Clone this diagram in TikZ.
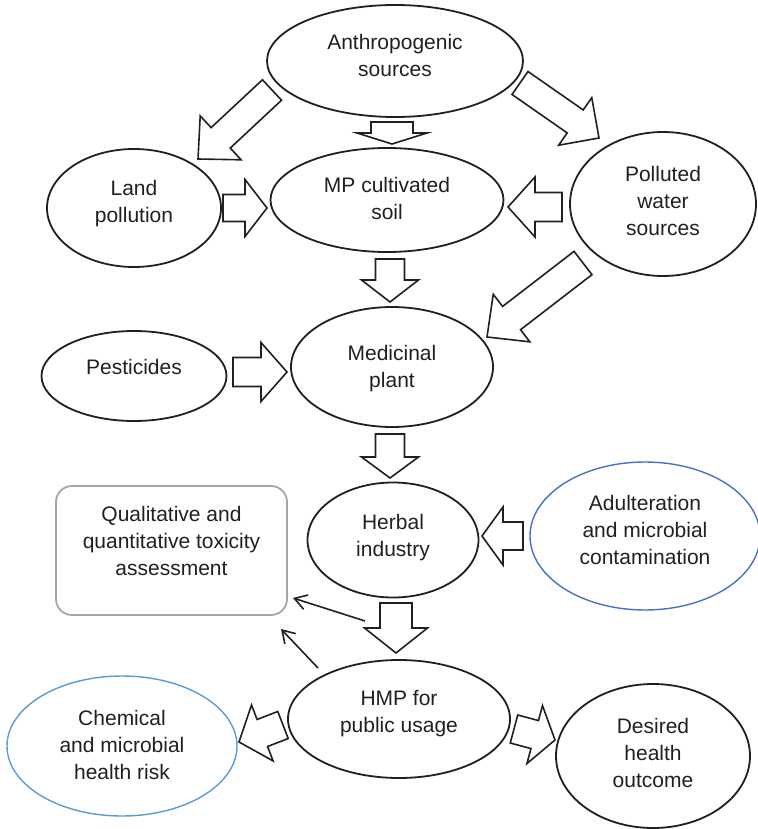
\documentclass[tikz,border=0pt]{standalone}
\usepackage{fontspec}
\setmainfont{Liberation Sans}
\usetikzlibrary{shapes.geometric,calc,arrows.meta}
\definecolor{ink}{HTML}{231F20}
\definecolor{blueA}{HTML}{4472C4}
\definecolor{blueB}{HTML}{5B9BD5}
\definecolor{boxgray}{HTML}{A6A6A6}
\newcommand{\mytxt}[2]{\raisebox{\dimexpr#1-2.5pt\relax}[\height][\depth]{\begin{tabular}{@{}c@{}}#2\end{tabular}}}
% tail, tip, shaft half width, head half width, head length
\newcommand{\blockarrow}[5]{%
  \coordinate (ba-b) at ($(#2)!#5!(#1)$);
  \draw[barrow] ($(#1)!#3!90:(#2)$) -- ($(ba-b)!#3!90:(#2)$) -- ($(ba-b)!#4!90:(#2)$)
     -- (#2) -- ($(ba-b)!#4!-90:(#2)$) -- ($(ba-b)!#3!-90:(#2)$) -- ($(#1)!#3!-90:(#2)$) -- cycle;}
\begin{document}
\begin{tikzpicture}[x=1pt,y=-1pt,
  ell/.style={ellipse, draw=ink, line width=1.8pt, inner sep=0pt, text=ink,
    font=\fontsize{21}{27}\selectfont},
  blueell/.style={ell, line width=1.4pt},
  qbox/.style={rectangle, rounded corners=16pt, draw=boxgray, line width=1.8pt,
    inner sep=0pt, text=ink, font=\fontsize{21}{27}\selectfont,
    minimum width=231pt, minimum height=129pt},
  barrow/.style={draw=ink, fill=white, line width=1.6pt, line join=miter},
  thinarr/.style={draw=ink, line width=1.6pt, -{Straight Barb[length=12pt,width=15pt]}}]
\useasboundingbox (0,0) rectangle (757,829);

% nodes
\node[ell, minimum width=256pt, minimum height=112pt] (anthro) at (395,61) {\mytxt{6pt}{Anthropogenic\\sources}};
\node[ell, minimum width=233pt, minimum height=104pt] (soil) at (387,200) {\mytxt{1.5pt}{MP cultivated\\soil}};
\node[ell, minimum width=174pt, minimum height=118pt] (land) at (134,208) {\mytxt{7pt}{Land\\pollution}};
\node[ell, minimum width=186pt, minimum height=144pt] (water) at (663,204) {\mytxt{3pt}{Polluted\\water\\sources}};
\node[ell, minimum width=202pt, minimum height=120pt] (med) at (392,367) {\mytxt{1pt}{Medicinal\\plant}};
\node[ell, minimum width=185pt, minimum height=90pt] (pest) at (134,376) {\mytxt{9pt}{Pesticides}};
\node[ell, minimum width=171pt, minimum height=115pt] (herbal) at (393,540) {\mytxt{4.5pt}{Herbal\\industry}};
\node[blueell, draw=blueA, minimum width=230pt, minimum height=148pt] (adult) at (645,536) {\mytxt{6pt}{Adulteration\\and microbial\\contamination}};
\node[ell, minimum width=222pt, minimum height=118pt] (hmp) at (399,719) {\mytxt{7.5pt}{HMP for\\public usage}};
\node[blueell, draw=blueB, minimum width=230pt, minimum height=140pt] (chem) at (122,746) {\mytxt{1pt}{Chemical\\and microbial\\health risk}};
\node[ell, minimum width=194pt, minimum height=144pt] (desired) at (653,756) {\mytxt{3pt}{Desired\\health\\outcome}};
\node[qbox] (qa) at (171.5,550.5) {\mytxt{9.5pt}{Qualitative and\\quantitative toxicity\\assessment}};

% block arrow end points
\coordinate (a1t) at (272,90);  \coordinate (a1h) at (198,159);
\coordinate (a2t) at (392,122); \coordinate (a2h) at (392,144);
\coordinate (a3t) at (520,83);  \coordinate (a3h) at (599,138);
\coordinate (a4t) at (223,208); \coordinate (a4h) at (267,208);
\coordinate (a5t) at (562,207); \coordinate (a5h) at (508,207);
\coordinate (a6t) at (390,259); \coordinate (a6h) at (390,302);
\coordinate (a7t) at (583,263); \coordinate (a7h) at (487,337);
\coordinate (a8t) at (233,372); \coordinate (a8h) at (287,372);
\coordinate (a9t) at (390,434); \coordinate (a9h) at (390,478);
\coordinate (a10t) at (523,536); \coordinate (a10h) at (482,536);
\coordinate (a11t) at (396,603); \coordinate (a11h) at (396,653);
\coordinate (a12t) at (283,725); \coordinate (a12h) at (239,742);
\coordinate (a13t) at (514,729); \coordinate (a13h) at (555,740);

\blockarrow{a1t}{a1h}{14pt}{30pt}{31pt}
\blockarrow{a2t}{a2h}{21pt}{35pt}{11pt}
\blockarrow{a3t}{a3h}{14pt}{29pt}{29pt}
\blockarrow{a4t}{a4h}{13.5pt}{28.5pt}{22pt}
\blockarrow{a5t}{a5h}{14.5pt}{30pt}{27pt}
\blockarrow{a6t}{a6h}{14.5pt}{28.5pt}{22pt}
\blockarrow{a7t}{a7h}{14.7pt}{30pt}{31pt}
\blockarrow{a8t}{a8h}{14.5pt}{29.5pt}{26pt}
\blockarrow{a9t}{a9h}{14.5pt}{28.5pt}{21pt}
\blockarrow{a10t}{a10h}{14pt}{29pt}{21pt}
\blockarrow{a11t}{a11h}{16pt}{31.5pt}{25pt}
\blockarrow{a12t}{a12h}{14.5pt}{30pt}{25pt}
\blockarrow{a13t}{a13h}{14.5pt}{30pt}{21pt}

% thin arrows to assessment box
\coordinate (t1s) at (365,621); \coordinate (t1e) at (293,598);
\coordinate (t2s) at (318,668); \coordinate (t2e) at (281,629);
\draw[thinarr] (t1s) -- (t1e);
\draw[thinarr] (t2s) -- (t2e);
\end{tikzpicture}
\end{document}
